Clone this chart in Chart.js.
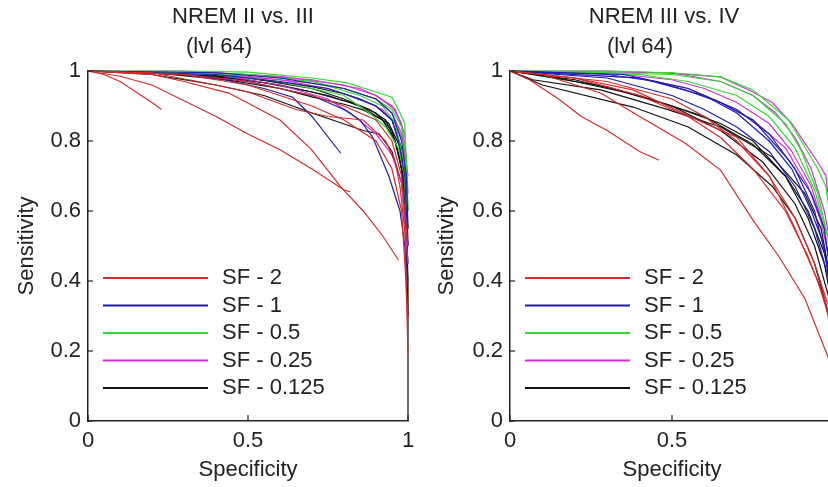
<!DOCTYPE html>
<html>
<head>
<meta charset="utf-8">
<script src="https://cdn.jsdelivr.net/npm/chart.js@4.4.0/dist/chart.umd.min.js"></script>
<style>
  html, body { margin: 0; padding: 0; background: #fff; overflow: hidden; width: 828px; height: 487px; }
  canvas { position: absolute; top: 0; }
  #left { left: 0; }
  #right { left: 430px; }
</style>
</head>
<body>
<canvas id="left" width="420" height="487"></canvas>
<canvas id="right" width="410" height="487"></canvas>
<script>
// legend labels, one per scale factor
const sfLabels = ['SF - 2', 'SF - 1', 'SF - 0.5', 'SF - 0.25', 'SF - 0.125'];
const xTicks = [0, 0.5, 1];
const yTicks = [0, 0.2, 0.4, 0.6, 0.8, 1];

// each curve = [specificity[], sensitivity[]]
// NREM II vs. III
const leftSF2 = [
  [[0, 0.05, 0.1, 0.15, 0.2, 0.23], [1, 0.99, 0.97, 0.94, 0.91, 0.89]],
  [[0, 0.1, 0.2, 0.3, 0.4, 0.5, 0.6, 0.7, 0.8, 0.82], [1, 0.985, 0.96, 0.915, 0.87, 0.82, 0.775, 0.72, 0.66, 0.655]],
  [[0, 0.2, 0.3, 0.44, 0.6, 0.7, 0.79, 0.86, 0.92, 0.97], [1, 0.99, 0.97, 0.937, 0.86, 0.774, 0.669, 0.6, 0.53, 0.46]],
  [[0, 0.2, 0.4, 0.5, 0.65, 0.75, 0.86, 0.93, 0.96, 0.975, 0.99, 1], [1, 0.995, 0.96, 0.94, 0.89, 0.87, 0.86, 0.8, 0.74, 0.67, 0.54, 0.19]],
  [[0, 0.3, 0.5, 0.6, 0.7, 0.8, 0.9, 0.95, 0.98, 1], [1, 0.99, 0.96, 0.93, 0.9, 0.86, 0.8, 0.72, 0.6, 0.3]],
  [[0, 0.3, 0.5, 0.7, 0.8, 0.9, 0.95, 0.98, 1], [1, 0.99, 0.97, 0.93, 0.9, 0.86, 0.8, 0.7, 0.5]]
];
const leftSF1 = [
  [[0, 0.2, 0.4, 0.55, 0.64, 0.7, 0.79], [1, 0.995, 0.98, 0.95, 0.925, 0.87, 0.765]],
  [[0, 0.3, 0.5, 0.7, 0.8, 0.85, 0.89, 0.94, 0.975, 0.99, 1], [1, 0.99, 0.97, 0.93, 0.89, 0.86, 0.81, 0.7, 0.6, 0.5, 0.4]],
  [[0, 0.4, 0.6, 0.75, 0.85, 0.9, 0.95, 0.97, 0.99, 1], [1, 0.99, 0.97, 0.95, 0.92, 0.9, 0.86, 0.8, 0.7, 0.5]],
  [[0, 0.4, 0.6, 0.8, 0.9, 0.95, 0.98, 0.995, 1], [1, 0.995, 0.98, 0.95, 0.92, 0.88, 0.8, 0.7, 0.55]]
];
const leftSF05 = [
  [[0, 0.3, 0.5, 0.7, 0.81, 0.9, 0.95, 0.975, 0.99, 1], [1, 1, 0.997, 0.98, 0.966, 0.94, 0.925, 0.88, 0.85, 0.6]],
  [[0, 0.3, 0.5, 0.7, 0.8, 0.9, 0.95, 0.98, 0.995, 1], [1, 0.995, 0.99, 0.97, 0.95, 0.92, 0.89, 0.84, 0.75, 0.6]],
  [[0, 0.4, 0.6, 0.8, 0.88, 0.93, 0.97, 0.99, 1], [1, 0.99, 0.97, 0.93, 0.88, 0.84, 0.78, 0.7, 0.55]],
  [[0, 0.5, 0.7, 0.85, 0.92, 0.96, 0.985, 1], [1, 0.99, 0.97, 0.93, 0.9, 0.85, 0.75, 0.5]]
];
const leftSF025 = [
  [[0, 0.3, 0.5, 0.7, 0.85, 0.9, 0.95, 0.98, 1], [1, 1, 0.99, 0.975, 0.95, 0.93, 0.9, 0.85, 0.7]],
  [[0, 0.3, 0.5, 0.7, 0.8, 0.9, 0.95, 0.98, 0.995, 1], [1, 0.995, 0.985, 0.965, 0.95, 0.92, 0.88, 0.82, 0.75, 0.5]],
  [[0, 0.4, 0.6, 0.75, 0.85, 0.92, 0.96, 0.985, 1], [1, 0.99, 0.975, 0.95, 0.92, 0.89, 0.85, 0.8, 0.6]],
  [[0, 0.4, 0.6, 0.75, 0.82, 0.86, 0.9, 0.95, 0.98, 1], [1, 0.99, 0.96, 0.92, 0.88, 0.85, 0.82, 0.76, 0.68, 0.45]],
  [[0, 0.4, 0.6, 0.8, 0.9, 0.96, 0.99, 1], [1, 0.995, 0.985, 0.96, 0.93, 0.89, 0.82, 0.65]]
];
const leftSF0125 = [
  [[0, 0.2, 0.44, 0.6, 0.7, 0.8, 0.86, 0.94, 0.975, 0.99, 1, 1], [1, 0.995, 0.974, 0.95, 0.926, 0.905, 0.889, 0.851, 0.783, 0.717, 0.4, 0]],
  [[0, 0.2, 0.4, 0.55, 0.7, 0.86, 0.91, 0.95, 0.98, 1], [1, 0.99, 0.96, 0.93, 0.88, 0.83, 0.82, 0.77, 0.68, 0.5]],
  [[0, 0.3, 0.5, 0.7, 0.8, 0.88, 0.93, 0.96, 0.98, 0.99, 1], [1, 0.995, 0.98, 0.95, 0.92, 0.89, 0.86, 0.8, 0.72, 0.62, 0.5]],
  [[0, 0.3, 0.5, 0.7, 0.82, 0.9, 0.95, 0.975, 0.99, 1], [1, 0.99, 0.975, 0.94, 0.91, 0.88, 0.83, 0.75, 0.65, 0.3]],
  [[0, 0.2, 0.4, 0.6, 0.75, 0.85, 0.92, 0.96, 0.985, 1], [1, 0.995, 0.985, 0.96, 0.93, 0.9, 0.86, 0.8, 0.7, 0.45]],
  [[0, 0.3, 0.5, 0.7, 0.8, 0.9, 0.95, 0.98, 1], [1, 0.99, 0.98, 0.955, 0.935, 0.9, 0.86, 0.78, 0.55]]
];

// NREM III vs. IV
const rightSF2 = [
  [[0, 0.06, 0.15, 0.22, 0.3, 0.4, 0.46], [1, 0.975, 0.92, 0.87, 0.83, 0.77, 0.745]],
  [[0, 0.1, 0.28, 0.4, 0.54, 0.65, 0.75, 0.83, 0.91, 1], [1, 0.99, 0.937, 0.87, 0.794, 0.717, 0.574, 0.47, 0.35, 0.14]],
  [[0, 0.2, 0.38, 0.6, 0.7, 0.8, 0.88, 0.95, 1], [1, 0.98, 0.946, 0.851, 0.811, 0.7, 0.55, 0.4, 0.25]],
  [[0, 0.2, 0.4, 0.55, 0.65, 0.75, 0.85, 0.92, 0.97, 1], [1, 0.98, 0.93, 0.87, 0.81, 0.72, 0.6, 0.47, 0.35, 0.22]],
  [[0, 0.3, 0.5, 0.6, 0.7, 0.8, 0.88, 0.94, 1], [1, 0.97, 0.92, 0.87, 0.8, 0.7, 0.58, 0.45, 0.28]]
];
const rightSF1 = [
  [[0, 0.3, 0.45, 0.54, 0.65, 0.75, 0.86, 0.93, 0.97, 1], [1, 0.99, 0.97, 0.946, 0.91, 0.86, 0.746, 0.65, 0.55, 0.35]],
  [[0, 0.3, 0.5, 0.6, 0.7, 0.8, 0.88, 0.94, 0.98, 1], [1, 0.98, 0.93, 0.89, 0.84, 0.77, 0.67, 0.55, 0.42, 0.3]],
  [[0, 0.4, 0.6, 0.7, 0.8, 0.87, 0.93, 0.97, 1], [1, 0.98, 0.93, 0.88, 0.8, 0.72, 0.6, 0.5, 0.3]],
  [[0, 0.35, 0.55, 0.7, 0.8, 0.88, 0.94, 0.98, 1], [1, 0.99, 0.95, 0.89, 0.82, 0.72, 0.6, 0.45, 0.33]]
];
const rightSF05 = [
  [[0, 0.3, 0.5, 0.65, 0.75, 0.86, 0.91, 0.95, 0.975, 1], [1, 1, 0.995, 0.983, 0.946, 0.86, 0.783, 0.72, 0.67, 0.5]],
  [[0, 0.3, 0.5, 0.65, 0.75, 0.85, 0.9, 0.95, 1], [1, 0.995, 0.99, 0.97, 0.93, 0.85, 0.77, 0.65, 0.45]],
  [[0, 0.4, 0.55, 0.7, 0.8, 0.88, 0.94, 0.98, 1], [1, 0.99, 0.97, 0.93, 0.87, 0.78, 0.66, 0.53, 0.4]]
];
const rightSF025 = [
  [[0, 0.3, 0.49, 0.65, 0.75, 0.81, 0.87, 0.91, 0.95, 0.975, 1], [1, 1, 0.994, 0.983, 0.94, 0.909, 0.85, 0.794, 0.74, 0.7, 0.5]],
  [[0, 0.3, 0.5, 0.6, 0.7, 0.8, 0.87, 0.93, 0.97, 1], [1, 0.995, 0.975, 0.95, 0.91, 0.85, 0.77, 0.67, 0.55, 0.35]],
  [[0, 0.4, 0.55, 0.65, 0.75, 0.85, 0.92, 0.96, 1], [1, 0.98, 0.95, 0.91, 0.86, 0.78, 0.67, 0.57, 0.4]],
  [[0, 0.5, 0.65, 0.75, 0.82, 0.88, 0.93, 0.97, 1], [1, 0.995, 0.97, 0.93, 0.88, 0.81, 0.72, 0.6, 0.45]]
];
const rightSF0125 = [
  [[0, 0.07, 0.28, 0.49, 0.65, 0.81, 0.91, 0.96, 1], [1, 0.975, 0.946, 0.889, 0.84, 0.754, 0.65, 0.55, 0.35]],
  [[0, 0.1, 0.38, 0.55, 0.7, 0.81, 0.88, 0.94, 1], [1, 0.96, 0.897, 0.84, 0.76, 0.67, 0.58, 0.45, 0.25]],
  [[0, 0.1, 0.3, 0.5, 0.65, 0.75, 0.85, 0.92, 0.97, 1], [1, 0.985, 0.955, 0.9, 0.85, 0.8, 0.7, 0.58, 0.45, 0.3]],
  [[0, 0.15, 0.35, 0.5, 0.65, 0.78, 0.88, 0.94, 1], [1, 0.98, 0.94, 0.9, 0.83, 0.74, 0.62, 0.5, 0.3]],
  [[0, 0.2, 0.4, 0.6, 0.75, 0.85, 0.92, 0.97, 1], [1, 0.975, 0.93, 0.87, 0.79, 0.7, 0.6, 0.48, 0.35]]
];

const sfColors = ['#d42a2a', '#1c1cb0', '#2fdc2f', '#d230d2', '#111111'];
const FONT = '"Liberation Sans", Arial, sans-serif';
Chart.defaults.font.family = FONT;
Chart.defaults.font.size = 22;
Chart.defaults.color = '#222';

function buildDatasets(groups) {
  const out = [];
  groups.forEach((curves, g) => {
    curves.forEach(c => {
      out.push({
        data: c[0].map((s, i) => ({ x: s, y: c[1][i] })),
        borderColor: sfColors[g],
        borderWidth: 1.2,
        pointRadius: 0,
        showLine: true,
        tension: 0,
        clip: 3
      });
    });
  });
  return out;
}

// titles, legend and inward tick marks
const decor = {
  id: 'decor',
  afterDraw(chart, args, opts) {
    const ctx = chart.ctx, a = chart.chartArea;
    const xs = chart.scales.x, ys = chart.scales.y;
    ctx.save();
    ctx.strokeStyle = '#222';
    ctx.lineWidth = 1.2;
    yTicks.forEach(v => {
      const y = ys.getPixelForValue(v);
      ctx.beginPath(); ctx.moveTo(a.left, y); ctx.lineTo(a.left + 5, y); ctx.stroke();
    });
    xTicks.forEach(v => {
      const x = xs.getPixelForValue(v);
      ctx.beginPath(); ctx.moveTo(x, a.bottom); ctx.lineTo(x, a.bottom - 6); ctx.stroke();
    });
    ctx.fillStyle = '#222';
    ctx.font = '22px ' + FONT;
    ctx.textAlign = 'center';
    ctx.textBaseline = 'middle';
    const cx = (a.left + a.right) / 2;
    ctx.fillText(opts.title[0], cx + opts.shift[0], 17);
    ctx.fillText(opts.title[1], cx + opts.shift[1], 47);
    ctx.textAlign = 'left';
    sfLabels.forEach((lab, i) => {
      const y = a.top + 207 + i * 27.5;
      ctx.strokeStyle = sfColors[i];
      ctx.lineWidth = 2;
      ctx.beginPath(); ctx.moveTo(a.left + 15, y); ctx.lineTo(a.left + 120, y); ctx.stroke();
      ctx.fillText(lab, a.left + 134, y);
    });
    ctx.restore();
  }
};

function makeChart(id, groups, title, shift, yWidth, yTitlePad, rightPad) {
  return new Chart(document.getElementById(id), {
    type: 'scatter',
    data: { datasets: buildDatasets(groups) },
    options: {
      responsive: false,
      animation: false,
      devicePixelRatio: 1,
      layout: { padding: { top: 71, right: rightPad, left: 0, bottom: 0 } },
      plugins: {
        legend: { display: false },
        tooltip: { enabled: false },
        decor: { title: title, shift: shift }
      },
      scales: {
        x: {
          type: 'linear', min: 0, max: 1,
          afterBuildTicks: s => { s.ticks = xTicks.map(v => ({ value: v })); },
          afterFit: s => { s.height = 66; s.paddingLeft = 0; s.paddingRight = 0; },
          grid: { display: true, drawOnChartArea: false, drawTicks: false },
          border: { color: '#222', width: 1.5 },
          ticks: { padding: 7, color: '#222', callback: v => String(v) },
          title: { display: true, text: 'Specificity', padding: { top: 0, bottom: 4 }, color: '#222' }
        },
        y: {
          type: 'linear', min: 0, max: 1,
          afterBuildTicks: s => { s.ticks = yTicks.map(v => ({ value: v })); },
          afterFit: s => { s.width = yWidth; s.paddingTop = 0; s.paddingBottom = 0; },
          grid: { display: true, drawOnChartArea: false, drawTicks: false },
          border: { color: '#222', width: 1.5 },
          ticks: { padding: 7, color: '#222', callback: v => String(v) },
          title: { display: true, text: 'Sensitivity', padding: { top: yTitlePad, bottom: 0 }, color: '#222' }
        }
      }
    },
    plugins: [decor]
  });
}

makeChart('left', [leftSF2, leftSF1, leftSF05, leftSF025, leftSF0125],
  ['NREM II vs. III', '(lvl 64)'], [-5, -29], 88, 14, 12);
makeChart('right', [rightSF2, rightSF1, rightSF05, rightSF025, rightSF0125],
  ['NREM III vs. IV', '(lvl 64)'], [-8, -32], 80, 4, 6);
</script>
</body>
</html>
